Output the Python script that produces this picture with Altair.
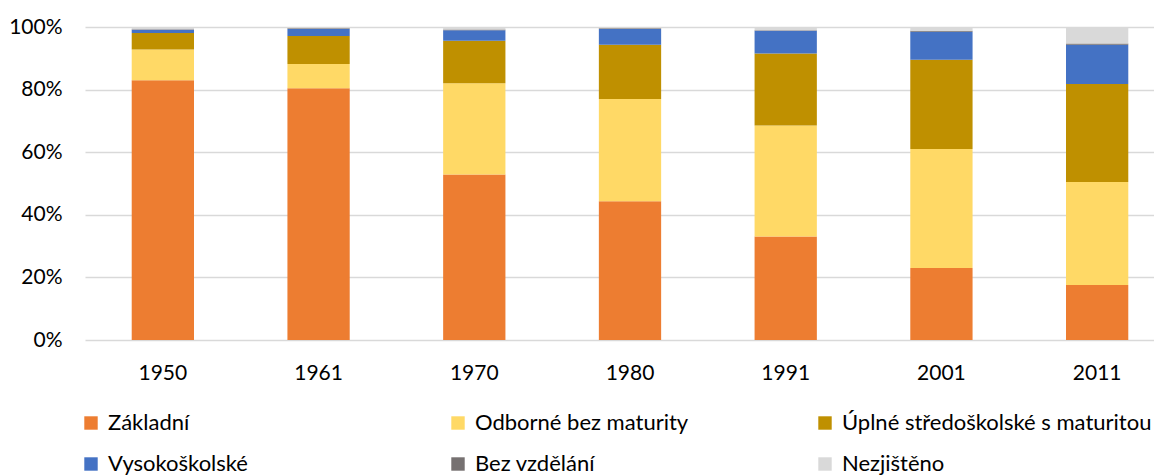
import altair as alt
import pandas as pd

years = ["1950", "1961", "1970", "1980", "1991", "2001", "2011"]
categories = ["Základní", "Odborné bez maturity", "Úplné středoškolské s maturitou",
              "Vysokoškolské", "Bez vzdělání", "Nezjištěno"]
colors = ["#ED7D31", "#FFD966", "#BF9000", "#4472C4", "#767171", "#D9D9D9"]

zakladni   = [83.0, 80.4, 52.9, 44.3, 33.1, 23.0, 17.6]
odborne    = [9.8, 7.8, 29.1, 32.7, 35.4, 38.0, 32.9]
uplne      = [5.3, 8.9, 13.6, 17.3, 23.0, 28.5, 31.3]
vysoko     = [1.0, 2.3, 3.4, 5.1, 7.3, 9.0, 12.5]
bez        = [0.2, 0.2, 0.2, 0.2, 0.2, 0.3, 0.4]
nezjisteno = [0.7, 0.4, 0.8, 0.4, 1.0, 1.2, 5.3]

series = [zakladni, odborne, uplne, vysoko, bez, nezjisteno]
rows = []
for ci, (cat, vals) in enumerate(zip(categories, series)):
    for y, v in zip(years, vals):
        rows.append({"rok": y, "kategorie": cat, "podil": v / 100.0, "poradi": ci})
df = pd.DataFrame(rows)

FONT = "Lato"

chart = alt.Chart(df).mark_bar().encode(
    x=alt.X("rok:N", sort=years, title=None,
            scale=alt.Scale(range=[0, 1090], paddingInner=0.6, paddingOuter=0.3),
            axis=alt.Axis(labelAngle=0, labelFontSize=21, labelFont=FONT, labelColor="#000000",
                          labelPadding=22, ticks=False, domain=False, grid=False)),
    y=alt.Y("podil:Q", stack="zero", title=None,
            scale=alt.Scale(domain=[0, 1], nice=False),
            axis=alt.Axis(format=".0%", values=[0, 0.2, 0.4, 0.6, 0.8, 1.0],
                          labelFontSize=21, labelFont=FONT, labelColor="#000000",
                          labelPadding=23, ticks=False, domain=False,
                          grid=True, gridColor="#D9D9D9", gridWidth=1.5)),
    color=alt.Color("kategorie:N", sort=categories,
                    scale=alt.Scale(domain=categories, range=colors),
                    legend=alt.Legend(title=None, orient="none", legendX=-5, legendY=385,
                                      direction="horizontal", columns=3, gridAlign="all",
                                      columnPadding=29, rowPadding=19, padding=0,
                                      symbolType="square", symbolSize=180, symbolStrokeWidth=0,
                                      labelFontSize=22, labelFont=FONT, labelColor="#000000",
                                      labelOffset=6, labelLimit=500)),
    order=alt.Order("poradi:Q", sort="ascending"),
).properties(
    width=1069, height=313,
    autosize=alt.AutoSizeParams(type="none"),
    padding={"left": 77, "top": 19, "right": 0, "bottom": 135},
).configure_view(stroke=None)

chart.save("out.html", embed_options={"renderer": "svg", "actions": False})
